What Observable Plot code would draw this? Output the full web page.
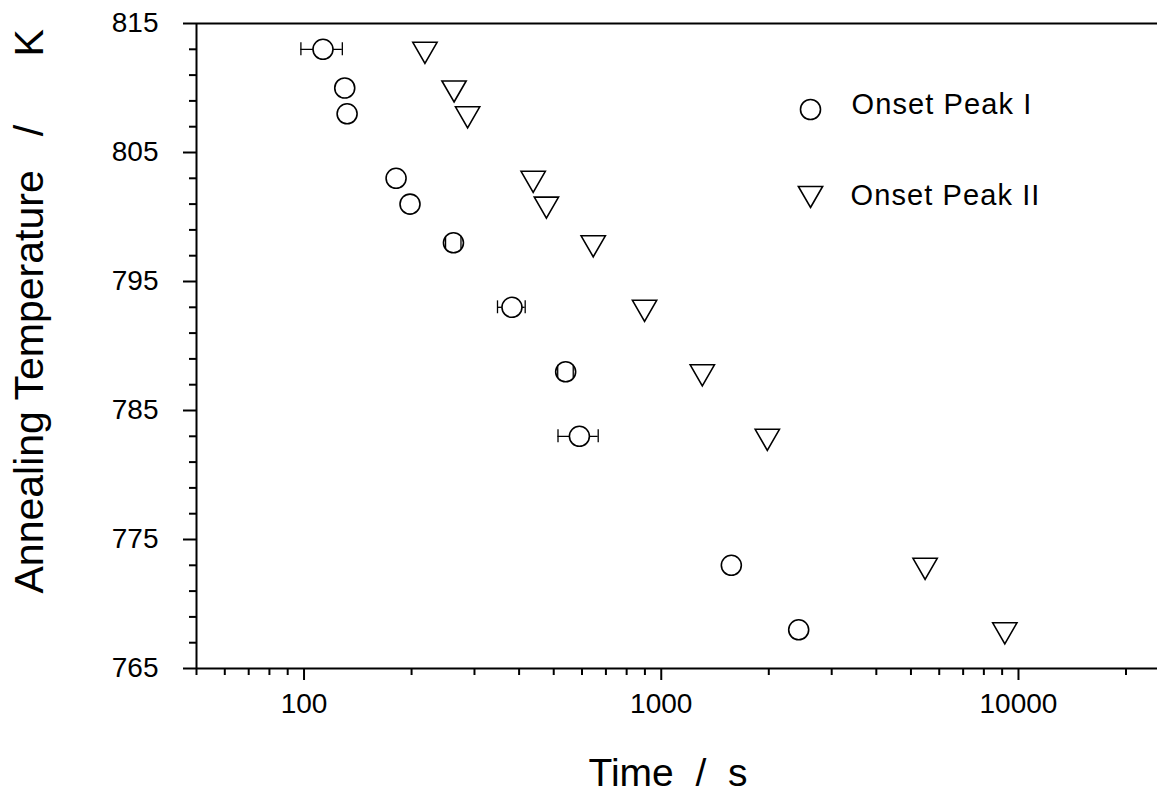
<!DOCTYPE html>
<html><head><meta charset="utf-8">
<script src="https://cdn.jsdelivr.net/npm/d3@7"></script>
<script src="https://cdn.jsdelivr.net/npm/@observablehq/plot@0.6"></script>
<style>html,body{margin:0;padding:0;background:#fff;overflow:hidden}</style>
</head><body><div id="chart"></div>
<script>
// Onset Peak I (circles), with horizontal error (s)
const peak1Time = [113, 130, 132, 181, 198, 262, 382, 540, 590, 1571, 2425];
const peak1Temp = [813, 810, 808, 803, 801, 798, 793, 788, 783, 773, 768];
const peak1Err  = [15, 0, 0, 0, 0, 13, 34, 27, 76, 0, 0];
// Onset Peak II (triangles)
const peak2Time = [218, 263, 287, 438, 477, 645, 898, 1303, 1981, 5478, 9157];
const peak2Temp = [813, 810, 808, 803, 801, 798, 793, 788, 783, 773, 768];
// ticks
const xMajorTicks = [100, 1000, 10000];
const xMinorTicks = [50, 60, 70, 80, 90, 200, 300, 400, 500, 600, 700, 800, 900,
                     2000, 3000, 4000, 5000, 6000, 7000, 8000, 9000, 20000];
const yMajorTicks = [765, 775, 785, 795, 805, 815];
const yMinorTicks = [767, 769, 771, 773, 777, 779, 781, 783, 787, 789, 791, 793,
                     797, 799, 801, 803, 807, 809, 811, 813];
const legendLabels = ["Onset Peak I", "Onset Peak II"];
const xTitle = "Time  /  s";
const yTitle = "Annealing Temperature   /      K";

const peak1 = peak1Time.map((t, i) => ({t, T: peak1Temp[i], e: peak1Err[i]}));
const peak2 = peak2Time.map((t, i) => ({t, T: peak2Temp[i]}));
const errs = peak1.filter(d => d.e > 0);

const triangleDown = {
  draw(context, size) {
    const y = Math.sqrt(size / (Math.sqrt(3) * 3));
    const s = Math.sqrt(3) * y;
    context.moveTo(0, 2 * y);
    context.lineTo(s, -y);
    context.lineTo(-s, -y);
    context.closePath();
  }
};

const ink = "#000";
const font = "'Liberation Sans', Arial, sans-serif";

const chart = Plot.plot({
  width: 1157, height: 797,
  marginLeft: 196, marginRight: 0, marginTop: 23, marginBottom: 129,
  style: {fontFamily: font, background: "#fff", color: ink},
  x: {type: "log", domain: [50, 24500], axis: null},
  y: {domain: [765, 815], axis: null},
  marks: [
    Plot.axisX({ticks: xMinorTicks, tickSize: 7, strokeWidth: 2, tickFormat: () => "", label: null}),
    Plot.axisX({ticks: xMajorTicks, tickSize: 12, tickPadding: 13, strokeWidth: 2, fontSize: 28,
                tickFormat: d => String(d), label: null}),
    Plot.axisY({ticks: yMinorTicks, tickSize: 7, strokeWidth: 2, tickFormat: () => "", label: null}),
    Plot.axisY({ticks: yMajorTicks, tickSize: 13, tickPadding: 25, strokeWidth: 2, fontSize: 28,
                tickFormat: d => String(d), label: null}),
    Plot.ruleY([765], {stroke: ink, strokeWidth: 2}),
    Plot.ruleY([815], {stroke: ink, strokeWidth: 2}),
    Plot.ruleX([50], {stroke: ink, strokeWidth: 2}),
    // error bars
    Plot.ruleY(errs, {x1: d => d.t - d.e, x2: d => d.t + d.e, y: "T", stroke: ink, strokeWidth: 1.3}),
    Plot.dot(peak1, {x: "t", y: "T", r: 10, stroke: ink, fill: "#fff", strokeWidth: 1.6}),
    Plot.ruleX(errs, {x: d => d.t - d.e, y1: d => d.T - 0.5, y2: d => d.T + 0.5, stroke: ink, strokeWidth: 1.3}),
    Plot.ruleX(errs, {x: d => d.t + d.e, y1: d => d.T - 0.5, y2: d => d.T + 0.5, stroke: ink, strokeWidth: 1.3}),
    Plot.dot(peak2, {x: "t", y: "T", r: 9, symbol: triangleDown, stroke: ink, fill: "#fff", strokeWidth: 1.6}),
    // legend
    Plot.dot([legendLabels[0]], {frameAnchor: "top-left", dx: 614, dy: 86, r: 10, stroke: ink, fill: "#fff", strokeWidth: 1.6}),
    Plot.dot([legendLabels[1]], {frameAnchor: "top-left", dx: 614, dy: 170, r: 9, symbol: triangleDown, stroke: ink, fill: "#fff", strokeWidth: 1.6}),
    Plot.text([legendLabels[0]], {frameAnchor: "top-left", dx: 655, dy: 90, textAnchor: "start", lineAnchor: "bottom", fontSize: 29, fill: ink}),
    Plot.text([legendLabels[1]], {frameAnchor: "top-left", dx: 654, dy: 181, textAnchor: "start", lineAnchor: "bottom", fontSize: 29, fill: ink}),
    // titles
    Plot.text([xTitle], {frameAnchor: "bottom-left", dx: 392, dy: 117, textAnchor: "start", lineAnchor: "bottom", fontSize: 39, fill: ink}),
    Plot.text([yTitle], {frameAnchor: "bottom-left", dx: -167, dy: -75, rotate: -90, textAnchor: "start", lineAnchor: "middle", fontSize: 41, fill: ink})
  ]
});
chart.style.whiteSpace = "pre";
d3.select(chart).selectAll("text")
  .filter(function() { return legendLabels.includes(this.textContent); })
  .style("letter-spacing", "1.1px");
document.getElementById("chart").appendChild(chart);
</script>
</body></html>
